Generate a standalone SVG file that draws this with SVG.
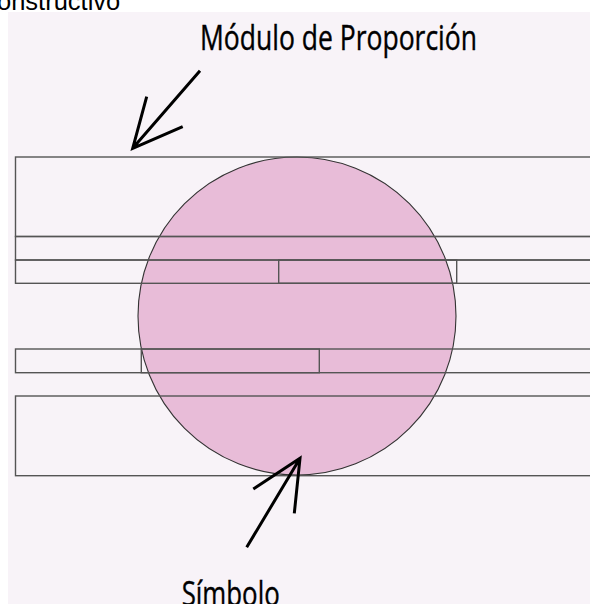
<svg xmlns="http://www.w3.org/2000/svg" width="590" height="604" viewBox="0 0 590 604">
<style>
.band{fill:none;stroke:#555;stroke-width:1.4}
.arrow{fill:none;stroke:#000;stroke-width:3;stroke-linecap:butt}
.lbl{font-family:"Open Sans","Noto Sans",sans-serif;font-size:35px;fill:#000;stroke:#000;stroke-width:0.4}
</style>
<rect x="0" y="0" width="590" height="604" fill="#ffffff"/>
<text x="-3" y="10" font-family="Liberation Sans, Arial, sans-serif" font-size="25.5" fill="#000">onstructivo</text>
<rect x="8" y="12" width="582" height="592" fill="#f8f3f8"/>
<g id="simbolo">
<circle cx="297" cy="316" r="159" fill="#e8bcd8" stroke="#333" stroke-width="1.1"/>
</g>
<g id="modulo">
<rect class="band" x="15.5" y="157" width="600" height="79.5"/>
<rect class="band" x="15.5" y="236.5" width="600" height="23.5"/>
<rect class="band" x="15.5" y="260" width="600" height="23.3"/>
<rect class="band" x="278.7" y="260" width="178" height="23.3"/>
<rect class="band" x="15.5" y="349" width="600" height="23.7"/>
<rect class="band" x="141.3" y="349" width="178" height="23.7"/>
<rect class="band" x="15.5" y="396" width="600" height="79.7"/>
</g>
<g id="connectors">
<path class="arrow" d="M200,70.7 L132.7,148.3 M146.7,96.7 L132.7,148.3 L182.7,126.7"/>
<path class="arrow" d="M246.7,547.3 L300,458.3 M253.3,489 L300,458.3 L294.3,513.3"/>
</g>
<g id="label-modulo">
<text class="lbl" x="200" y="50" textLength="277" lengthAdjust="spacingAndGlyphs">Módulo de Proporción</text>
</g>
<g id="label-simbolo">
<text class="lbl" x="181.7" y="606" textLength="98" lengthAdjust="spacingAndGlyphs">Símbolo</text>
</g>
</svg>
